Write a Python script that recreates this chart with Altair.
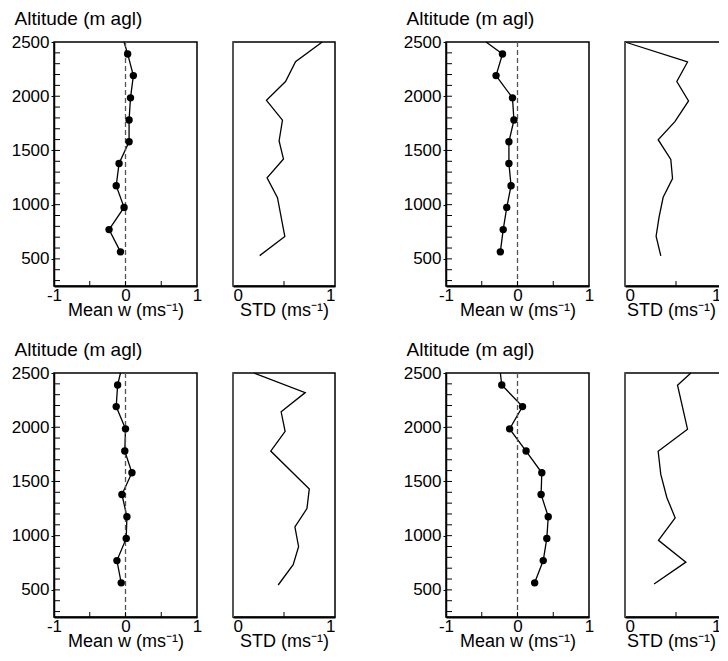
import altair as alt
import pandas as pd

FONT = "Liberation Sans"

# ---- data ----
MEAN_ALT = [2500, 2390, 2190, 1985, 1780, 1580, 1380, 1175, 975, 770, 565]
MEAN_MARK = [0, 1, 1, 1, 1, 1, 1, 1, 1, 1, 1]

MEAN_W_A = [-0.02, 0.03, 0.11, 0.07, 0.05, 0.05, -0.09, -0.13, -0.02, -0.23, -0.07]
MEAN_W_B = [-0.44, -0.21, -0.30, -0.07, -0.05, -0.12, -0.12, -0.09, -0.15, -0.20, -0.24]
MEAN_W_C = [-0.07, -0.11, -0.13, 0.00, -0.01, 0.09, -0.05, 0.02, 0.01, -0.12, -0.06]
MEAN_W_D = [-0.24, -0.22, 0.07, -0.11, 0.12, 0.34, 0.33, 0.43, 0.41, 0.36, 0.24]

STD_ALT_A = [2500, 2318, 2135, 1962, 1780, 1588, 1421, 1248, 1065, 707, 530]
STD_A = [0.875, 0.613, 0.515, 0.328, 0.485, 0.452, 0.495, 0.334, 0.436, 0.508, 0.262]

STD_ALT_B = [2500, 2316, 2136, 1957, 1766, 1599, 1417, 1241, 1068, 886, 710, 528]
STD_B = [0.0, 0.613, 0.508, 0.623, 0.489, 0.325, 0.449, 0.466, 0.374, 0.334, 0.305, 0.351]

STD_ALT_C = [2500, 2319, 2142, 1961, 1780, 1431, 1250, 1081, 898, 732, 545]
STD_C = [0.207, 0.708, 0.472, 0.511, 0.370, 0.748, 0.725, 0.607, 0.643, 0.590, 0.443]

STD_ALT_D = [2500, 2387, 1982, 1778, 1565, 1352, 1164, 957, 756, 555]
STD_D = [0.646, 0.515, 0.613, 0.325, 0.351, 0.410, 0.492, 0.328, 0.597, 0.285]

Y_LABELS = [500, 1000, 1500, 2000, 2500]
Y_MINOR = [300, 400, 500, 600, 700, 800, 900, 1000, 1100, 1200, 1300, 1400,
           1500, 1600, 1700, 1800, 1900, 2000, 2100, 2200, 2300, 2400]
MEAN_XLABELS = [-1, 0, 1]
MEAN_XTICKS = [-0.5, 0, 0.5]
STD_XLABELS = [0, 1]
STD_XTICKS = [0.5]

Y_DOMAIN = [250, 2500]

# ---- layout ----
W_MEAN, W_STD, H = 143, 102, 244
GAP_IN, GAP_OUT, GAP_ROW = 36, 111, 87
W_SPACER = GAP_OUT - 2 * GAP_IN

yscale = alt.Scale(domain=Y_DOMAIN, nice=False, zero=False)

XAXIS_COMMON = dict(
    ticks=False, grid=False, domainColor="black", domainWidth=2,
    labelFont=FONT, labelFontSize=17, labelColor="black", labelPadding=1,
    labelExpr="datum.value + ''",
    titleFont=FONT, titleFontSize=18, titleFontWeight="normal",
    titleColor="black", titlePadding=-2,
)


def mean_panel(vals):
    df = pd.DataFrame({"alt": MEAN_ALT, "w": vals, "marker": MEAN_MARK})
    x = alt.X("w:Q", scale=alt.Scale(domain=[-1, 1], nice=False),
              axis=alt.Axis(values=MEAN_XLABELS, title="Mean w (ms\u207b\u00b9)",
                            labelFlush=False, **XAXIS_COMMON))
    y = alt.Y("alt:Q", scale=yscale,
              axis=alt.Axis(values=Y_LABELS, title="Altitude (m agl)", grid=False,
                            tickSize=3, tickColor="black", domainColor="black",
                            domainWidth=1.5, labelFont=FONT, labelFontSize=17,
                            labelColor="black", labelPadding=2, labelFlush=False,
                            labelExpr="datum.value + ''",
                            titleFont=FONT, titleFontSize=19, titleFontWeight="normal",
                            titleColor="black", titleAngle=0, titleAlign="left",
                            titleBaseline="alphabetic", titleX=-40, titleY=-18))
    line = alt.Chart(df).mark_line(color="black", strokeWidth=1.3).encode(
        x=x, y=y, order="alt:Q")
    pts = alt.Chart(df).transform_filter("datum.marker == 1").mark_circle(
        size=55, color="black", opacity=1).encode(x="w:Q", y="alt:Q")
    zero = alt.Chart(pd.DataFrame({"w": [0]})).mark_rule(
        strokeDash=[5, 3], color="#555555", strokeWidth=1.3).encode(x="w:Q")
    yt = alt.Chart(pd.DataFrame({"alt": Y_MINOR})).mark_rule(
        color="black", strokeWidth=1).encode(y="alt:Q", x=alt.value(0), x2=alt.value(6))
    xt = alt.Chart(pd.DataFrame({"w": MEAN_XTICKS})).mark_rule(
        color="black", strokeWidth=1).encode(x="w:Q", y=alt.value(H), y2=alt.value(H - 5))
    return alt.layer(line, zero, pts, yt, xt).properties(width=W_MEAN, height=H)


def std_panel(alts, vals, edge_panel=False):
    df = pd.DataFrame({"alt": alts, "s": vals})
    extra = {}
    if edge_panel:
        # the right-most panel runs past the page edge, as in the source figure
        extra = dict(titleX=W_STD / 2 - 5,
                     labelOffset={"condition": {"test": "datum.value == 1", "value": -6},
                                  "value": 0})
    x = alt.X("s:Q", scale=alt.Scale(domain=[0, 1], nice=False),
              axis=alt.Axis(values=STD_XLABELS, title="STD (ms\u207b\u00b9)",
                            labelFlush=True, **XAXIS_COMMON, **extra))
    y = alt.Y("alt:Q", scale=yscale, axis=None)
    line = alt.Chart(df).mark_line(color="black", strokeWidth=1.3).encode(
        x=x, y=y, order="alt:Q")
    edge = alt.Chart(pd.DataFrame({"s": [0]})).mark_rule(
        color="#555555", strokeWidth=2).encode(x="s:Q")
    xt = alt.Chart(pd.DataFrame({"s": STD_XTICKS})).mark_rule(
        color="black", strokeWidth=1).encode(x="s:Q", y=alt.value(H), y2=alt.value(H - 5))
    return alt.layer(line, edge, xt).properties(width=W_STD, height=H)


def spacer():
    return alt.Chart(pd.DataFrame({"a": [0]})).mark_point(opacity=0).encode(
        x=alt.X("a:Q", axis=None), y=alt.Y("a:Q", axis=None)
    ).properties(width=W_SPACER, height=H,
                 view=alt.ViewBackground(strokeOpacity=0, strokeWidth=0))


panels = [
    mean_panel(MEAN_W_A), std_panel(STD_ALT_A, STD_A), spacer(),
    mean_panel(MEAN_W_B), std_panel(STD_ALT_B, STD_B, True),
    mean_panel(MEAN_W_C), std_panel(STD_ALT_C, STD_C), spacer(),
    mean_panel(MEAN_W_D), std_panel(STD_ALT_D, STD_D, True),
]

chart = alt.concat(
    *panels, columns=5, spacing={"row": GAP_ROW, "column": GAP_IN},
    bounds="flush", align="each"
).properties(
    padding={"left": 2, "top": 0, "right": -9, "bottom": 0}
).configure(font=FONT).configure_view(stroke="black", strokeWidth=1.5)

chart.save("out.html", embed_options={"renderer": "svg", "actions": False})
